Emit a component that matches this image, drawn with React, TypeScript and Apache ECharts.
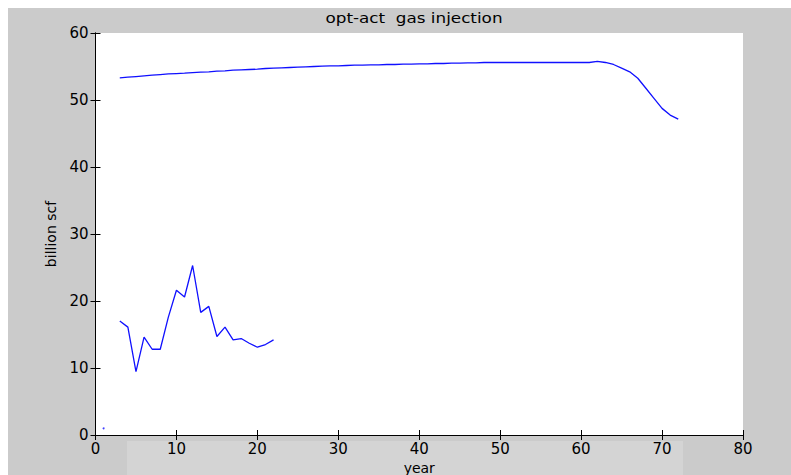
import React, { useEffect, useRef } from "react";
import * as echarts from "echarts";

const optYears: number[] = Array.from({ length: 70 }, (_, i) => i + 3);
const optValues: number[] = [
  53.3, 53.4, 53.5, 53.6, 53.7, 53.8, 53.9, 53.95, 54.0, 54.1,
  54.15, 54.2, 54.3, 54.35, 54.45, 54.5, 54.55, 54.6, 54.7, 54.75,
  54.8, 54.85, 54.9, 54.95, 55.0, 55.05, 55.1, 55.1, 55.15, 55.2,
  55.2, 55.25, 55.25, 55.3, 55.3, 55.35, 55.35, 55.4, 55.4, 55.45,
  55.45, 55.5, 55.5, 55.55, 55.55, 55.6, 55.6, 55.6, 55.6, 55.6,
  55.6, 55.6, 55.6, 55.6, 55.6, 55.6, 55.6, 55.6, 55.6, 55.75,
  55.6, 55.3, 54.75, 54.2, 53.25, 51.75, 50.25, 48.75, 47.75, 47.15,
];

const actYears: number[] = [3, 4, 5, 6, 7, 8, 9, 10, 11, 12, 13, 14, 15, 16, 17, 18, 19, 20, 21, 22];
const actValues: number[] = [
  17.0, 16.1, 9.45, 14.6, 12.8, 12.8, 17.6, 21.6, 20.6, 25.3,
  18.3, 19.2, 14.7, 16.1, 14.2, 14.4, 13.7, 13.1, 13.5, 14.2,
];

const dotYears: number[] = [1];
const dotValues: number[] = [1.0];

const xTicks = { min: 0, max: 80, interval: 10 };
const yTicks = { min: 0, max: 60, interval: 10 };

const FONT = "DejaVu Sans";

export default function App() {
  const ref = useRef<HTMLDivElement>(null);
  useEffect(() => {
    if (!ref.current) return;
    const chart = echarts.init(ref.current, undefined, { renderer: "svg" });
    const axisCommon = {
      axisLine: { show: true, lineStyle: { color: "#000", width: 1 } },
      axisTick: { show: true, inside: true, length: 5, lineStyle: { color: "#000" } },
      splitLine: { show: false },
    };
    chart.setOption({
      animation: false,
      backgroundColor: "#cbcbcb",
      graphic: [
        {
          type: "rect",
          z: -10,
          shape: { x: 119, y: 433, width: 556, height: 34 },
          style: { fill: "#d4d4d4" },
        },
        {
          type: "text",
          x: 406,
          y: 3,
          scaleX: 1.2,
          style: {
            text: "opt-act  gas injection",
            fill: "#000",
            font: `14px "${FONT}"`,
            textAlign: "center",
            textVerticalAlign: "top",
          },
        },
      ],
      grid: {
        left: 87.5,
        right: 48,
        top: 25,
        bottom: 40,
        containLabel: false,
        outerBoundsMode: "none",
        show: true,
        backgroundColor: "#ffffff",
        borderWidth: 0,
      },
      xAxis: [
        {
          type: "value",
          ...xTicks,
          position: "bottom",
          ...axisCommon,
          name: "year",
          nameLocation: "middle",
          nameGap: 19,
          nameTextStyle: { color: "#000", fontFamily: FONT, fontSize: 14 },
          axisLabel: { color: "#000", fontFamily: FONT, fontSize: 15, margin: 6 },
        },
        {
          type: "value",
          ...xTicks,
          position: "top",
          ...axisCommon,
          axisLabel: { show: false },
        },
      ],
      yAxis: [
        {
          type: "value",
          ...yTicks,
          position: "left",
          ...axisCommon,
          name: "billion scf",
          nameLocation: "middle",
          nameGap: 38,
          nameRotate: 90,
          nameTextStyle: { color: "#000", fontFamily: FONT, fontSize: 14 },
          axisLabel: { color: "#000", fontFamily: FONT, fontSize: 15, margin: 7 },
        },
        {
          type: "value",
          ...yTicks,
          position: "right",
          ...axisCommon,
          axisLabel: { show: false },
        },
      ],
      series: [
        {
          type: "line",
          data: optYears.map((y, i) => [y, optValues[i]]),
          showSymbol: false,
          lineStyle: { color: "#1010ff", width: 1.3 },
          itemStyle: { color: "#1010ff" },
        },
        {
          type: "line",
          data: actYears.map((y, i) => [y, actValues[i]]),
          showSymbol: false,
          lineStyle: { color: "#1010ff", width: 1.3 },
          itemStyle: { color: "#1010ff" },
        },
        {
          type: "scatter",
          data: dotYears.map((y, i) => [y, dotValues[i]]),
          symbolSize: 2,
          itemStyle: { color: "#1010ff" },
        },
      ],
    });
    return () => chart.dispose();
  }, []);
  return (
    <div
      style={{
        position: "fixed",
        left: 0,
        top: 0,
        width: 791,
        height: 475,
        background: "#ffffff",
        overflow: "hidden",
      }}
    >
      <div
        ref={ref}
        style={{ position: "absolute", left: 8, top: 8, width: 783, height: 467 }}
      />
    </div>
  );
}
